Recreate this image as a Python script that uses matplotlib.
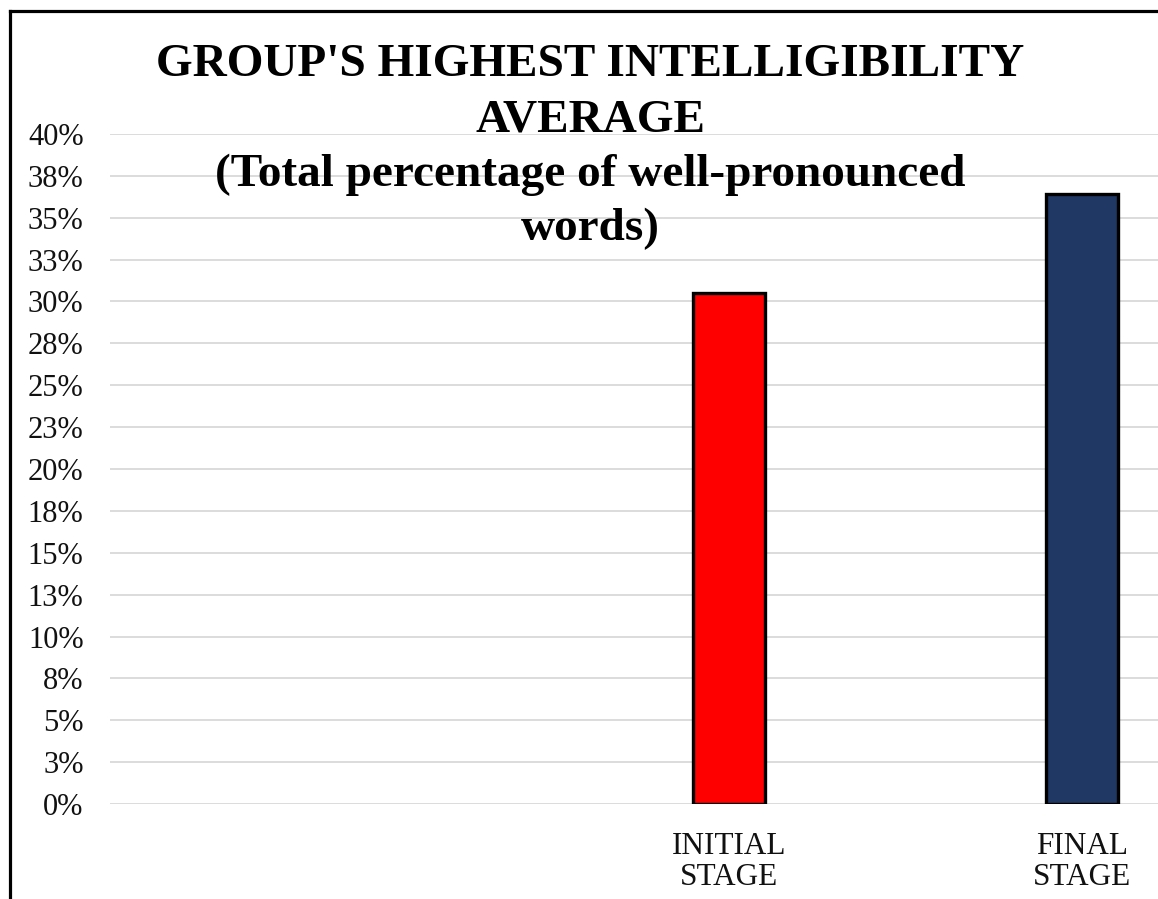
import matplotlib
matplotlib.use("Agg")
import matplotlib.pyplot as plt
from matplotlib.lines import Line2D

# ---- data ----
categories = ["", "INITIAL\nSTAGE", "FINAL\nSTAGE"]
values = [None, 0.305, 0.364]
bar_colors = ["none", "#FF0000", "#203864"]
tick_values = [i * 0.025 for i in range(17)]
tick_labels = ["0%", "3%", "5%", "8%", "10%", "13%", "15%", "18%", "20%",
               "23%", "25%", "28%", "30%", "33%", "35%", "38%", "40%"]
title_lines = ["GROUP'S HIGHEST INTELLIGIBILITY", "AVERAGE",
               "(Total percentage of well-pronounced", "words)"]

plt.rcParams["font.family"] = ["Liberation Serif", "DejaVu Serif"]

W, H = 1158, 899
fig = plt.figure(figsize=(W / 100, H / 100), dpi=100)
fig.patch.set_facecolor("white")

# axes placed in pixel terms (chart is cropped on the right)
left_px, bottom_px, top_px = 110, 804, 134
xmin, xmax = -0.754, 2.754
cat_px = 353.0
width_px = (xmax - xmin) * cat_px
ax = fig.add_axes([left_px / W, (H - bottom_px) / H, width_px / W, (bottom_px - top_px) / H])
ax.set_xlim(xmin, xmax)
ax.set_ylim(0, 0.40)

xs = list(range(len(categories)))
for x, v, c in zip(xs, values, bar_colors):
    if v is None:
        continue
    ax.bar(x, v, width=0.204, color=c, edgecolor="black", linewidth=2.4, zorder=3)

ax.set_yticks(tick_values)
ax.set_yticklabels(tick_labels)
ax.set_xticks(xs)
ax.set_xticklabels(categories, linespacing=1.12)
ax.tick_params(axis="y", length=0, pad=19, labelsize=22, colors="#111111")
ax.tick_params(axis="x", length=0, pad=20, labelsize=22.5, colors="#111111")
ax.grid(axis="y", color="#d9d9d9", linewidth=1.3, zorder=0)
ax.set_axisbelow(True)
for s in ax.spines.values():
    s.set_visible(False)

# chart frame (cropped on right/bottom)
fig.add_artist(Line2D([10 / W, 10 / W], [-0.1, 1 - 11 / H], transform=fig.transFigure,
                      color="black", linewidth=2.3))
fig.add_artist(Line2D([10 / W, 1.1], [1 - 11 / H, 1 - 11 / H], transform=fig.transFigure,
                      color="black", linewidth=2.3))

baselines_px = [76, 131, 186, 240]
for line, b in zip(title_lines, baselines_px):
    fig.text(590 / W, 1 - b / H, line, ha="center", va="baseline", fontsize=34,
             fontweight="bold", color="black")

fig.savefig("out.png", dpi=100, facecolor="white")
